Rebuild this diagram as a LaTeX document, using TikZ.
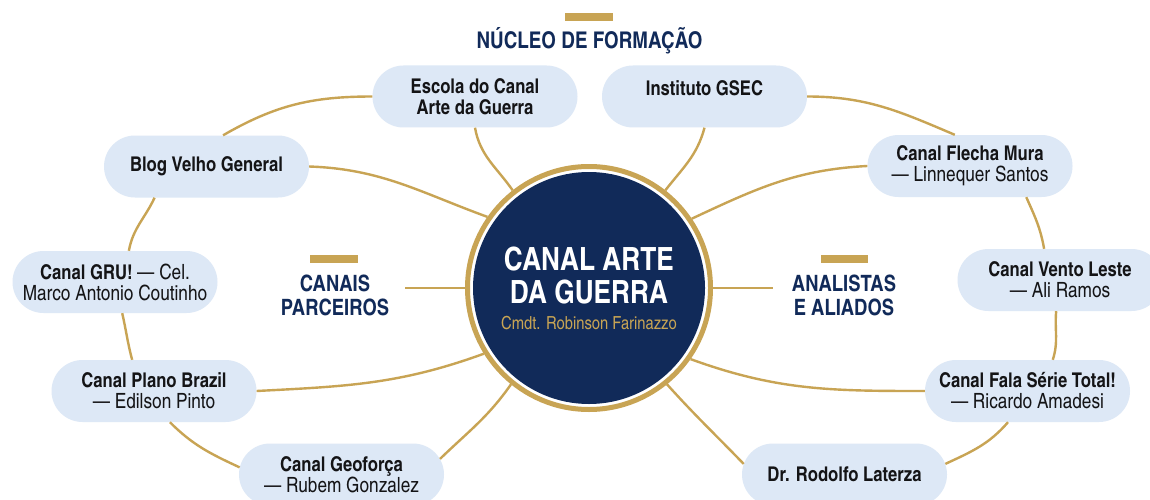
\documentclass[tikz,border=0pt]{standalone}
\usepackage{fontspec}
\setmainfont{texgyreheroscn}[Extension=.otf,UprightFont=*-regular,BoldFont=*-bold,ItalicFont=*-italic,BoldItalicFont=*-bolditalic]
\usetikzlibrary{shapes.misc}
\definecolor{gold}{RGB}{200,164,84}
\definecolor{navy}{RGB}{17,42,89}
\definecolor{pillblue}{RGB}{221,232,246}
\definecolor{ink}{RGB}{20,20,22}
\newcommand{\who}[1]{{\fontsize{21}{21}\selectfont #1}}

\begin{document}
\begin{tikzpicture}[x=1pt,y=1pt,
    pill/.style={rounded rectangle, fill=pillblue, text=ink, minimum width=205pt, minimum height=62pt, inner sep=0pt, align=center, font=\fontsize{20.3}{21}\selectfont},
    link/.style={draw=gold, line width=2.4pt},
    head/.style={text=navy, align=center, font=\fontsize{22.5}{24}\selectfont\bfseries}]
    \clip (0,0) rectangle (1150,499);
    \fill[white] (0,0) rectangle (1150,499);

    % Draw nodes for the hub and the headings
    \node[circle, draw=gold, line width=5pt, fill=white, minimum size=243pt, inner sep=0pt, align=center, text=white,
          path picture={\fill[navy] (path picture bounding box.center) circle (116pt);},
          font=\fontsize{32}{33.5}\selectfont\bfseries] (hub) at (589,211)
          {CANAL ARTE\\DA GUERRA\\[-8pt]{\fontsize{18}{18}\selectfont\mdseries\color{gold}Cmdt. Robinson Farinazzo}};
    \node[text=navy, font=\fontsize{23}{26}\selectfont\bfseries] (nucleo) at (589.5,458) {NÚCLEO DE FORMAÇÃO};
    \node[head] (parceiros) at (335,204) {CANAIS\\PARCEIROS};
    \node[head] (aliados) at (844,204) {ANALISTAS\\E ALIADOS};
    \fill[gold] (565,478) rectangle (613,486);
    \fill[gold] (310,236) rectangle (358,244);
    \fill[gold] (821,236) rectangle (868,244);
    \coordinate (lp) at (405,211);
    \coordinate (ra) at (773,211);

    % Draw nodes for the circle of channels
    \node[pill] (escola) at (475,402.5) {\bfseries Escola do Canal\\\bfseries Arte da Guerra};
    \node[pill, text depth=17pt] (inst) at (704.5,402.5) {\bfseries Instituto GSEC};
    \node[pill] (blog) at (206.5,332.5) {\bfseries Blog Velho General};
    \node[pill] (flecha) at (970,333) {\bfseries Canal Flecha Mura\\\who{— Linnequer Santos}};
    \node[pill] (gru) at (115,217) {{\bfseries Canal GRU!} \who{— Cel.}\\\who{Marco Antonio Coutinho}};
    \node[pill] (vento) at (1060,219) {\bfseries Canal Vento Leste\\\who{— Ali Ramos}};
    \node[pill] (plano) at (154,108) {\bfseries Canal Plano Brazil\\\who{— Edilson Pinto}};
    \node[pill] (fala) at (1027.5,108) {\bfseries Canal Fala Série Total!\\\who{— Ricardo Amadesi}};
    \node[pill] (geo) at (341.5,24.5) {\bfseries Canal Geoforça\\\who{— Rubem Gonzalez}};
    \node[pill] (dr) at (844.5,24.5) {\bfseries Dr. Rodolfo Laterza};

    % Draw edges to the hub
    \draw[link] (escola.south) to[out=-80,in=125] (hub.128);
    \draw[link] (inst.south) to[out=-105,in=52] (hub.52);
    \draw[link] (blog.east) to[out=-2,in=160] (hub.145);
    \draw[link] (flecha.west) to[out=183,in=25] (hub.34);
    \draw[link] (plano.east) to[out=3,in=200] (hub.212);
    \draw[link] (fala.west) to[out=180,in=-20] (hub.-35);
    \draw[link] (geo.9) to[out=44,in=235] (hub.231);
    \draw[link] (dr.174) to[out=134,in=-48] (hub.-51);
    \draw[link] (lp) -- (hub.west);
    \draw[link] (hub.east) -- (ra);

    % Draw edges round the ring
    \draw[link] (blog.62) to[out=30,in=180] (escola.west);
    \draw[link] (blog.211) to[out=245,in=80] (gru.66);
    \draw[link] (gru.-77) to[out=-77,in=105] (plano.125);
    \draw[link] (plano.-63) to[out=-45,in=155] (geo.176);
    \draw[link] (inst.east) to[out=0,in=157] (flecha.116);
    \draw[link] (flecha.-29) to[out=-66,in=100] (vento.117);
    \draw[link] (vento.-97) to[out=-95,in=72] (fala.51);
    \draw[link] (fala.-122) to[out=-131,in=25] (dr.6);
\end{tikzpicture}
\end{document}
